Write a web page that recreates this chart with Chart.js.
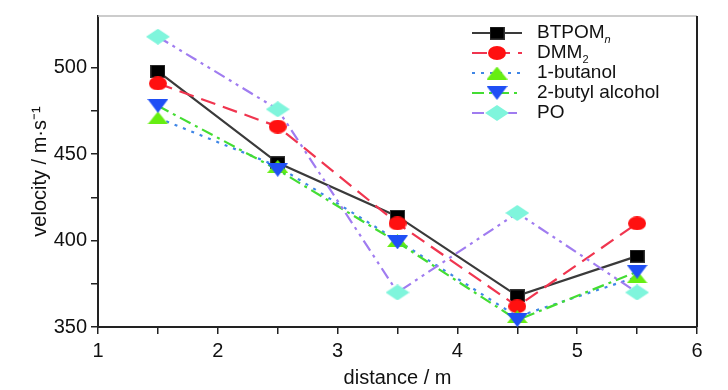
<!DOCTYPE html>
<html lang="en">
<head>
  <meta charset="UTF-8" />
  <title>Velocity vs distance</title>
  <script src="https://cdn.jsdelivr.net/npm/chart.js"></script>
  <style>
    html, body { margin: 0; padding: 0; background: #fff; }
    #wrap { width: 728px; height: 390px; }
  </style>
</head>
<body>
  <div id="wrap"><canvas id="chart" width="728" height="390"></canvas></div>

  <script>
    // distance (m)
    const distance = [1.5, 2.5, 3.5, 4.5, 5.5];

    // velocity (m/s) per fuel
    const btpom   = [498, 445, 414, 368, 391];
    const dmm2    = [491, 466, 410, 362, 410];
    const butanol = [471, 443, 400, 356, 379];
    const butyl   = [478, 441, 399, 354, 382];
    const po      = [518, 476, 370, 416, 370];

    const xTicks = [1, 2, 3, 4, 5, 6];
    const yTicks = [350, 400, 450, 500];

    const FONT = "'Liberation Sans', Arial, sans-serif";

    // marker images (flattened shapes like the original plot)
    function marker(shape, w, h, fill) {
      const c = document.createElement('canvas');
      c.width = w; c.height = h;
      const g = c.getContext('2d');
      g.fillStyle = fill;
      g.beginPath();
      if (shape === 'square') {
        g.rect(0, 0, w, h);
      } else if (shape === 'ellipse') {
        g.ellipse(w / 2, h / 2, w / 2, h / 2, 0, 0, Math.PI * 2);
      } else if (shape === 'up') {
        g.moveTo(w / 2, 0); g.lineTo(w, h); g.lineTo(0, h); g.closePath();
      } else if (shape === 'down') {
        g.moveTo(0, 0); g.lineTo(w, 0); g.lineTo(w / 2, h); g.closePath();
      } else if (shape === 'diamond') {
        g.moveTo(w / 2, 0); g.lineTo(w, h / 2); g.lineTo(w / 2, h); g.lineTo(0, h / 2); g.closePath();
      }
      g.fill();
      if (shape === 'square') {
        g.strokeStyle = '#333'; g.lineWidth = 1; g.strokeRect(0.5, 0.5, w - 1, h - 1);
      }
      return c;
    }

    const series = [
      { label: 'BTPOM', sub: 'n', italicSub: true, data: btpom, line: '#3a3a3a', dash: [],
        pt: marker('square', 15, 13, '#000') },
      { label: 'DMM', sub: '2', data: dmm2, line: '#f0354f', dash: [15, 8],
        pt: marker('ellipse', 18, 14, '#ff1010') },
      { label: '1-butanol', data: butanol, line: '#3f86e6', dash: [3, 6],
        pt: marker('up', 21, 13, '#66ee11') },
      { label: '2-butyl alcohol', data: butyl, line: '#44dd33', dash: [12, 5, 3, 5],
        pt: marker('down', 21, 14, '#1f4ff5') },
      { label: 'PO', data: po, line: '#a07cf0', dash: [12, 5, 3, 5, 3, 5],
        pt: marker('diamond', 24, 16, '#7ff5dc') }
    ];

    // frame on top/right plus custom legend with subscripts
    const extras = {
      id: 'extras',
      afterDatasetsDraw(chart) {
        const { ctx, chartArea: a } = chart;
        ctx.save();
        ctx.strokeStyle = '#bbbbbb';
        ctx.lineWidth = 1.5;
        ctx.beginPath();
        ctx.moveTo(a.left, a.top); ctx.lineTo(a.right, a.top);
        ctx.stroke();
        ctx.strokeStyle = '#222';
        ctx.lineWidth = 2;
        ctx.beginPath();
        ctx.moveTo(a.right, a.top); ctx.lineTo(a.right, a.bottom);
        ctx.stroke();

        const x0 = a.right - 225, x1 = a.right - 175, tx = a.right - 160;
        series.forEach((s, i) => {
          const y = a.top + 17 + i * 20;
          ctx.strokeStyle = s.line;
          ctx.lineWidth = 2.2;
          ctx.setLineDash(s.dash);
          ctx.beginPath();
          ctx.moveTo(x0, y); ctx.lineTo(x1, y);
          ctx.stroke();
          ctx.setLineDash([]);
          ctx.drawImage(s.pt, (x0 + x1) / 2 - s.pt.width / 2, y - s.pt.height / 2);
          ctx.fillStyle = '#111';
          ctx.textBaseline = 'middle';
          ctx.textAlign = 'left';
          ctx.font = '19px ' + FONT;
          ctx.fillText(s.label, tx, y);
          if (s.sub) {
            const w = ctx.measureText(s.label).width;
            ctx.font = (s.italicSub ? 'italic ' : '') + '11px ' + FONT;
            ctx.fillText(s.sub, tx + w, y + 7);
          }
        });
        ctx.restore();
      }
    };

    const ctx = document.getElementById('chart').getContext('2d');
    new Chart(ctx, {
      type: 'line',
      data: {
        datasets: series.map((s, i) => ({
          label: s.label,
          data: distance.map((d, k) => ({ x: d, y: s.data[k] })),
          borderColor: s.line,
          borderWidth: 2.2,
          borderDash: s.dash,
          pointStyle: s.pt,
          pointRadius: 8,
          backgroundColor: s.line,
          tension: 0,
          order: 5 - i
        }))
      },
      options: {
        responsive: false,
        animation: false,
        layout: { padding: { top: 16, right: 31, left: 0, bottom: 0 } },
        plugins: {
          legend: { display: false },
          tooltip: { enabled: false }
        },
        scales: {
          x: {
            type: 'linear',
            min: 1,
            max: 6,
            afterFit: s => { s.height = 63; },
            afterBuildTicks: s => { s.ticks = []; for (let v = 1; v <= 6; v += 0.5) s.ticks.push({ value: v }); },
            ticks: {
              autoSkip: false,
              maxRotation: 0,
              padding: 5,
              color: '#111',
              font: { family: FONT, size: 20 },
              callback: v => xTicks.includes(v) ? String(v) : ''
            },
            grid: { drawOnChartArea: false, tickLength: 7, color: '#222', lineWidth: 1.5 },
            border: { color: '#222', width: 2 },
            title: { display: true, text: 'distance / m', color: '#111', font: { family: FONT, size: 20 }, padding: { top: 4, bottom: 0 } }
          },
          y: {
            min: 350,
            max: 530,
            afterFit: s => { s.width = 98; },
            afterBuildTicks: s => { s.ticks = []; for (let v = 350; v <= 500; v += 25) s.ticks.push({ value: v }); },
            ticks: {
              padding: 4,
              color: '#111',
              font: { family: FONT, size: 20 },
              callback: v => yTicks.includes(v) ? String(v) : ''
            },
            grid: { drawOnChartArea: false, tickLength: 7, color: '#222', lineWidth: 1.5 },
            border: { color: '#222', width: 2 },
            title: { display: true, text: 'velocity / m·s⁻¹', color: '#111', font: { family: FONT, size: 20 }, padding: { top: 28, bottom: 0 } }
          }
        }
      },
      plugins: [extras]
    });
  </script>
</body>
</html>
